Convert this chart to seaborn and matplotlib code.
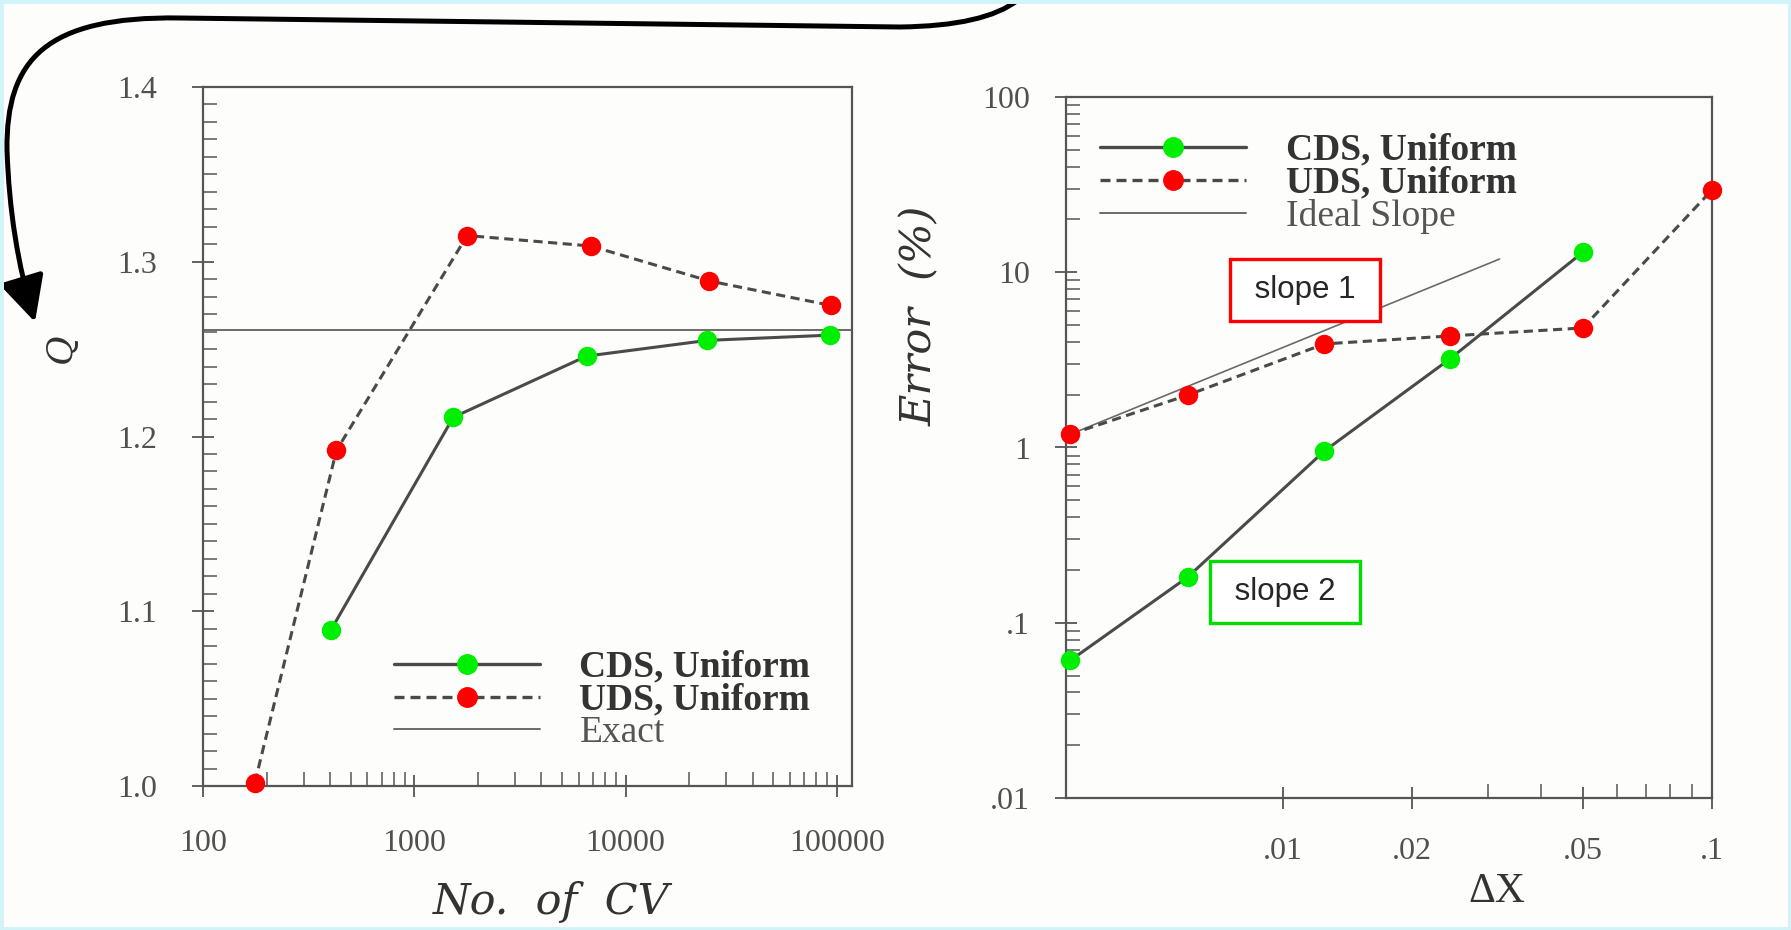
import matplotlib

matplotlib.use("Agg")

import seaborn as sns
import matplotlib.pyplot as plt
from matplotlib.lines import Line2D
from matplotlib.path import Path
from matplotlib.patches import FancyArrowPatch, Rectangle
from matplotlib.ticker import FixedLocator, FixedFormatter, MultipleLocator, LogLocator, NullFormatter

# left panel: Q against number of control volumes
n_cv_cds = [402, 1530, 6540, 24400, 92700]
q_cds = [1.089, 1.211, 1.246, 1.255, 1.258]
n_cv_uds = [176, 428, 1780, 6840, 24900, 93800]
q_uds = [1.002, 1.192, 1.315, 1.309, 1.289, 1.275]
q_exact = 1.261

q_ticks = [1.0, 1.1, 1.2, 1.3, 1.4]
q_tick_labels = ["1.0", "1.1", "1.2", "1.3", "1.4"]
cv_ticks = [100, 1000, 10000, 100000]
cv_tick_labels = ["100", "1000", "10000", "100000"]

# right panel: error against grid spacing
dx_cds = [0.0032, 0.006, 0.0125, 0.0245, 0.05]
err_cds = [0.061, 0.182, 0.955, 3.2, 13.0]
dx_uds = [0.0032, 0.006, 0.0125, 0.0245, 0.05, 0.1]
err_uds = [1.19, 1.99, 3.9, 4.33, 4.81, 29.5]
dx_ideal = [0.0032, 0.032]
err_ideal = [1.19, 11.9]

err_ticks = [0.01, 0.1, 1, 10, 100]
err_tick_labels = [".01", ".1", "1", "10", "100"]
dx_ticks = [0.01, 0.02, 0.05, 0.1]
dx_tick_labels = [".01", ".02", ".05", ".1"]
dx_minor = [0.03, 0.04, 0.06, 0.07, 0.08, 0.09]

legend_labels_left = ["CDS, Uniform", "UDS, Uniform", "Exact"]
legend_labels_right = ["CDS, Uniform", "UDS, Uniform", "Ideal Slope"]

RED = "#ff0000"
GREEN = "#00ee00"
LINE = "#4a4a4a"
THIN = "#6a6a6a"
SPINE = "#555555"
TICKTXT = "#505050"
BG = "#fdfdfb"
W, H = 1791, 930

sns.set_style("white")
plt.rcParams["font.family"] = ["Liberation Serif", "DejaVu Serif"]

fig = plt.figure(figsize=(W / 100, H / 100), dpi=100, facecolor=BG)
ax1 = fig.add_axes([203 / W, 1 - 786 / H, 649 / W, 699 / H], facecolor=BG)
ax2 = fig.add_axes([1066 / W, 1 - 798 / H, 646 / W, 701 / H], facecolor=BG)

dash = (0, (3.0, 1.8))
mk = dict(marker="o", markersize=14, markeredgewidth=0)

# left panel
ax1.set_xscale("log")
ax1.axhline(q_exact, color=THIN, lw=1.4, zorder=2)
sns.lineplot(x=n_cv_uds, y=q_uds, ax=ax1, color=LINE, lw=2.2, linestyle=dash,
             markerfacecolor=RED, markeredgecolor=RED, clip_on=False, zorder=4, **mk)
sns.lineplot(x=n_cv_cds, y=q_cds, ax=ax1, color=LINE, lw=2.2,
             markerfacecolor=GREEN, markeredgecolor=GREEN, clip_on=False, zorder=4, **mk)
ax1.set_xlim(100, 1.18e5)
ax1.set_ylim(1.0, 1.4)

# right panel
ax2.set_xscale("log")
ax2.set_yscale("log")
sns.lineplot(x=dx_ideal, y=err_ideal, ax=ax2, color=THIN, lw=1.2, zorder=2)
sns.lineplot(x=dx_uds, y=err_uds, ax=ax2, color=LINE, lw=2.2, linestyle=dash,
             markerfacecolor=RED, markeredgecolor=RED, clip_on=False, zorder=4, **mk)
sns.lineplot(x=dx_cds, y=err_cds, ax=ax2, color=LINE, lw=2.2,
             markerfacecolor=GREEN, markeredgecolor=GREEN, clip_on=False, zorder=4, **mk)
ax2.set_xlim(0.003125, 0.1)
ax2.set_ylim(0.01, 100)

# ticks
ax1.yaxis.set_major_locator(FixedLocator(q_ticks))
ax1.yaxis.set_major_formatter(FixedFormatter(q_tick_labels))
ax1.yaxis.set_minor_locator(MultipleLocator(0.01))
ax1.xaxis.set_major_locator(FixedLocator(cv_ticks))
ax1.xaxis.set_major_formatter(FixedFormatter(cv_tick_labels))
ax1.xaxis.set_minor_locator(LogLocator(base=10, subs=range(2, 10)))
ax1.xaxis.set_minor_formatter(NullFormatter())

ax2.yaxis.set_major_locator(FixedLocator(err_ticks))
ax2.yaxis.set_major_formatter(FixedFormatter(err_tick_labels))
ax2.yaxis.set_minor_locator(LogLocator(base=10, subs=range(2, 10)))
ax2.yaxis.set_minor_formatter(NullFormatter())
ax2.xaxis.set_major_locator(FixedLocator(dx_ticks))
ax2.xaxis.set_major_formatter(FixedFormatter(dx_tick_labels))
ax2.xaxis.set_minor_locator(FixedLocator(dx_minor))
ax2.xaxis.set_minor_formatter(NullFormatter())

for ax in (ax1, ax2):
    ax.tick_params(which="both", bottom=True, left=True, top=False, right=False,
                   color=SPINE, labelcolor=TICKTXT, labelsize=23)
    ax.tick_params(which="major", direction="inout", length=16, width=1.3)
    ax.tick_params(which="minor", direction="in", length=10, width=1.1)
    for s in ax.spines.values():
        s.set_color(SPINE)
        s.set_linewidth(1.6)
ax1.tick_params(axis="y", which="major", pad=25)
ax1.tick_params(axis="x", which="major", pad=23)
ax2.tick_params(axis="y", which="major", pad=18)
ax2.tick_params(axis="x", which="major", pad=20)

# axis labels
lab = dict(family=["DejaVu Serif"], color="#333333", va="center")
ax1.set_xlabel("No.  of  CV", fontsize=31, style="italic", **lab)
ax1.xaxis.set_label_coords(0.536, -0.166)
ax1.set_ylabel("Q", fontsize=26, style="italic", **lab)
ax1.yaxis.set_label_coords(-0.219, 0.627)
ax2.set_xlabel("ΔX", fontsize=30, color="#333333", va="center")
ax2.xaxis.set_label_coords(0.667, -0.134)
ax2.set_ylabel("Error  (%)", fontsize=31, style="italic", **lab)
ax2.yaxis.set_label_coords(-0.226, 0.688)


# legends
def handles(third_color):
    return [
        Line2D([], [], color=LINE, lw=2.4, marker="o", markersize=14,
               markerfacecolor=GREEN, markeredgecolor=GREEN),
        Line2D([], [], color=LINE, lw=2.4, linestyle=dash, marker="o", markersize=14,
               markerfacecolor=RED, markeredgecolor=RED),
        Line2D([], [], color=third_color, lw=1.4),
    ]


for ax, labels, anchor in ((ax1, legend_labels_left, (0.294, 0.195)),
                           (ax2, legend_labels_right, (0.053, 0.949))):
    leg = ax.legend(handles(THIN), labels, loc="upper left", bbox_to_anchor=anchor,
                    frameon=False, handlelength=3.9, handletextpad=1.05,
                    labelspacing=-0.05, borderpad=0, borderaxespad=0,
                    prop={"family": "Liberation Serif", "size": 27, "weight": "bold"})
    for i, t in enumerate(leg.get_texts()):
        t.set_color("#333333")
        if i == 2:
            t.set_fontweight("normal")
            t.set_color("#555555")

# slope annotations
fig.text(1305 / W, 1 - 290 / H, " slope 1 ", fontsize=22.5, family="Liberation Sans",
         ha="center", va="center",
         bbox=dict(boxstyle="square,pad=0.5", fc="white", ec=RED, lw=2.4))
fig.text(1285 / W, 1 - 592 / H, " slope 2 ", fontsize=22.5, family="Liberation Sans",
         ha="center", va="center",
         bbox=dict(boxstyle="square,pad=0.5", fc="white", ec="#00dd00", lw=2.4))

# hand-drawn arrow pointing at Q
pts = [(1018, 0), (985, 26), (900, 27), (180, 18), (45, 16), (6, 60), (7, 150),
       (10, 240), (35, 322)]
codes = [Path.MOVETO, Path.CURVE3, Path.CURVE3, Path.LINETO, Path.CURVE4,
         Path.CURVE4, Path.CURVE4, Path.CURVE3, Path.CURVE3]
arrow_path = Path([(x / W, 1 - y / H) for x, y in pts], codes)
arrow = FancyArrowPatch(path=arrow_path, arrowstyle="-|>,head_length=2.8,head_width=1.4",
                        mutation_scale=10, lw=3.6, color="black",
                        transform=fig.transFigure, shrinkA=0, shrinkB=0)
fig.add_artist(arrow)

fig.add_artist(Rectangle((0, 0), 1, 1, transform=fig.transFigure, fill=False,
                         ec="#d2f4f8", lw=5))

fig.savefig("out.png", dpi=100, facecolor=BG)
